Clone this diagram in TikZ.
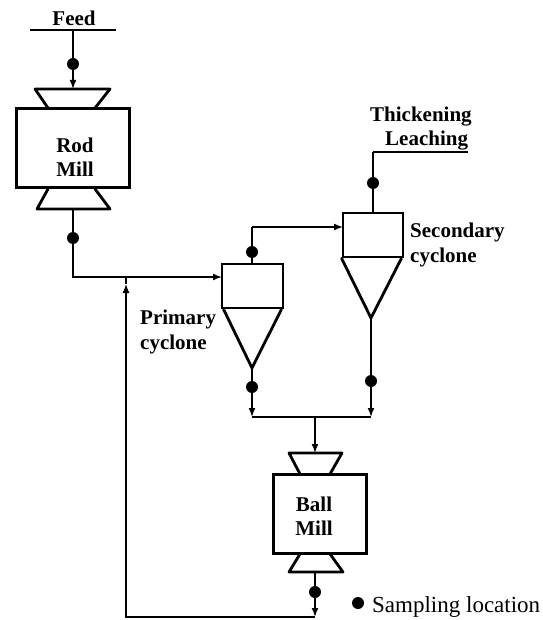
\documentclass[tikz,border=0pt]{standalone}
\usepackage{fontspec}
\setmainfont{Liberation Serif}
\usetikzlibrary{arrows.meta,calc}

\begin{document}
\begin{tikzpicture}[x=1pt,y=-1pt,
    line/.style={line width=1.6pt},
    flow/.style={line width=1.6pt,-{Latex[length=9pt,width=7pt]}},
    unit/.style={line width=2.8pt,line join=round,line cap=round},
    sample/.style={circle,fill=black,inner sep=0pt,minimum size=12pt},
    tag/.style={align=left,anchor=west,inner sep=0pt,font=\fontsize{21}{25}\selectfont\bfseries},
    millname/.style={align=center,inner sep=0pt,font=\fontsize{21}{24}\selectfont\bfseries},
    box/.style={draw,line width=2.8pt,inner sep=0pt}]
    \useasboundingbox (0,0) rectangle (542,620);
    \fill[white] (0,0) rectangle (542,620);
    % rod mill
    \node[box,minimum width=113pt,minimum height=79pt] (RodMill) at (73,148) {};
    \node[millname] (RodName) at (75,157) {Rod\\Mill};
    \coordinate (R1) at (73,89); \coordinate (R2) at (73,209);
    \draw[unit] (48,108) -- (35,89) -- (110,89) -- (95,108);
    \draw[unit] (48,189) -- (37,209) -- (110,209) -- (95,189);
    % ball mill
    \node[box,minimum width=93pt,minimum height=79pt] (BallMill) at (320,514) {};
    \node[millname] (BallName) at (314,516) {Ball\\Mill};
    \coordinate (B1) at (315,453); \coordinate (B2) at (315,572);
    \draw[unit] (300,474) -- (289,453) -- (342,453) -- (330,474);
    \draw[unit] (300,554) -- (289,572) -- (343,572) -- (330,554);
    % cyclones
    \node[box,minimum width=61pt,minimum height=44pt] (Primary) at (252.5,286) {};
    \node[box,minimum width=60pt,minimum height=44pt] (Secondary) at (373,235) {};
    \coordinate (P3) at (252,368); \coordinate (S3) at (371,318);
    \draw[unit] ($(Primary.south west)+(3,0)$) -- (P3) -- ($(Primary.south east)+(-3,0)$);
    \draw[unit] (Secondary.south west) -- (S3) -- ($(Secondary.south east)+(-3,0)$);
    % feed and thickening lines
    \coordinate (F1) at (30,30); \coordinate (F2) at (116,30); \coordinate (F3) at (73,30);
    \draw[line width=2.5pt] (F1) -- (F2);
    \node[anchor=base,inner sep=0pt,font=\fontsize{21}{24}\selectfont\bfseries] (Feed) at (74,26) {Feed};
    \draw[flow] (F3) -- (R1);
    \coordinate (T1) at (373,152); \coordinate (T2) at (468,152); \coordinate (S1) at (373,213);
    \draw[line] (S1) -- (T1); \draw[line width=2pt] (T1) -- (T2);
    \node[tag] (Thick) at (370,117) {Thickening};
    \node[tag] (Leach) at (385,141) {Leaching};
    % streams
    \coordinate (J1) at (73,277); \coordinate (J2) at (126,277); \coordinate (J3) at (126,617);
    \coordinate (P1) at (222,277); \coordinate (P2) at (252,264);
    \coordinate (J4) at (252,227); \coordinate (S2) at (343,227);
    \coordinate (Q1) at (252,417); \coordinate (Q2) at (371,417); \coordinate (Q3) at (315,417);
    \coordinate (E1) at (315,617); \coordinate (A1) at (126,284);
    \draw[line] (R2) -- (J1) -- (J2);
    \draw[flow] (J2) -- (P1);
    \draw[line width=1.2pt,-{Latex[length=9pt,width=7pt]}] (E1) -- (J3) -- (A1);
    \draw[line width=1.2pt] (A1) -- (J2);
    \draw[flow] (P3) -- (Q1);
    \draw[flow] (S3) -- (Q2);
    \draw[line] (Q1) -- (Q2);
    \draw[flow] (Q3) -- (B1);
    \draw[flow] (B2) -- (E1);
    \draw[line] (P2) -- (J4);
    \draw[flow] (J4) -- (S2);
    % sampling points
    \foreach \n/\x/\y in {a/73/64,b/73/238,c/373/183,d/252/252,e/252/387,f/371/381,g/315/592}
        {\node[sample] (dot\n) at (\x,\y) {};}
    \node[sample] (legend) at (358,603) {};
    \node[tag,font=\fontsize{23}{25}\selectfont] (Sampling) at (372,607) {Sampling location};
    \node[tag] (SecLabel) at (410,245) {Secondary\\cyclone};
    \node[tag] (PriLabel) at (140,332) {Primary\\cyclone};
\end{tikzpicture}
\end{document}
